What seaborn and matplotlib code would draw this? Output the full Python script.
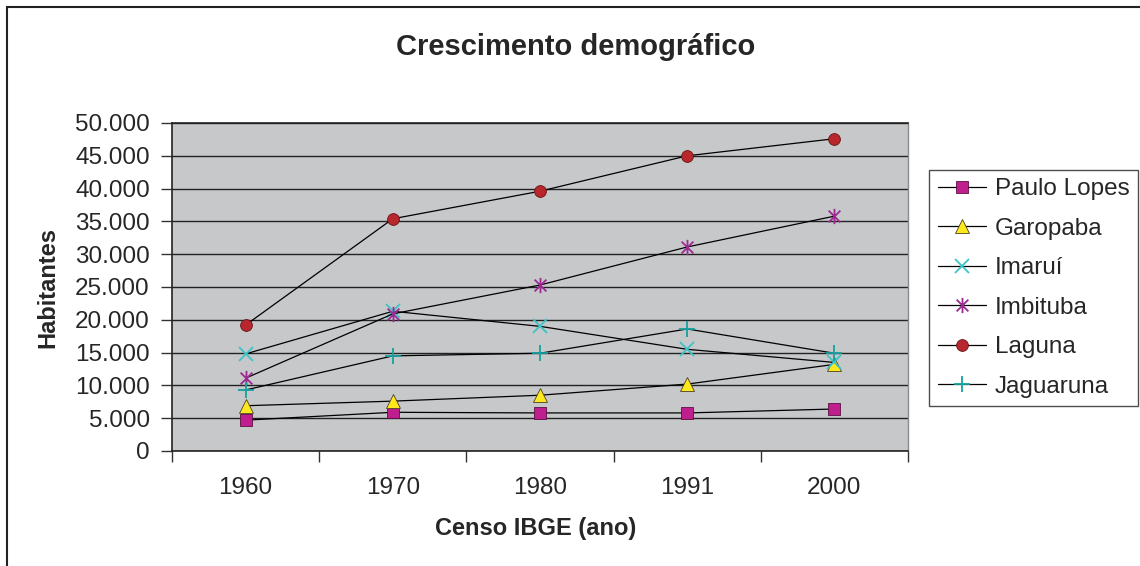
import numpy as np
import pandas as pd
import matplotlib
matplotlib.use("Agg")
import matplotlib.pyplot as plt
from matplotlib.patches import Rectangle
from matplotlib.path import Path
import seaborn as sns

# Data
anos = ["1960", "1970", "1980", "1991", "2000"]
paulo_lopes = [4700, 5900, 5800, 5800, 6400]
garopaba = [6900, 7600, 8500, 10200, 13200]
imarui = [14800, 21300, 19000, 15500, 13500]
imbituba = [11100, 20900, 25300, 31100, 35800]
laguna = [19200, 35400, 39600, 45000, 47600]
jaguaruna = [9300, 14500, 14900, 18600, 14900]

series = {
    "Paulo Lopes": paulo_lopes,
    "Garopaba": garopaba,
    "Imaruí": imarui,
    "Imbituba": imbituba,
    "Laguna": laguna,
    "Jaguaruna": jaguaruna,
}

# asterisk marker like Excel's "star" (x with a vertical bar)
star = Path([(-1, -1), (1, 1), (-1, 1), (1, -1), (0, -1.3), (0, 1.3)],
            [Path.MOVETO, Path.LINETO, Path.MOVETO, Path.LINETO, Path.MOVETO, Path.LINETO])

styles = {
    "Paulo Lopes": dict(marker="s", markersize=8, markerfacecolor="#BE1E8E", markeredgecolor="#5a1040", markeredgewidth=0.6),
    "Garopaba": dict(marker="^", markersize=10, markerfacecolor="#FFE81E", markeredgecolor="#4a4020", markeredgewidth=0.6),
    "Imaruí": dict(marker="x", markersize=10, markeredgecolor="#3CC4C8", markeredgewidth=1.3),
    "Imbituba": dict(marker=star, markersize=11, markeredgecolor="#9B2A92", markeredgewidth=1.3),
    "Laguna": dict(marker="o", markersize=8.5, markerfacecolor="#B8262E", markeredgecolor="#6a1418", markeredgewidth=0.6),
    "Jaguaruna": dict(marker="+", markersize=11, markeredgecolor="#16A0A0", markeredgewidth=1.3),
}

sns.set_style("white")
plt.rcParams["font.family"] = ["Liberation Sans", "DejaVu Sans"]

fig = plt.figure(figsize=(11.4, 5.66), dpi=100)
ax = fig.add_axes([0.1509, 0.2032, 0.6456, 0.5795])
ax.set_facecolor("#C7C8CA")

for name, vals in series.items():
    df = pd.DataFrame({"ano": anos, "hab": vals})
    sns.lineplot(data=df, x="ano", y="hab", ax=ax, color="black", linewidth=0.9,
                 label=name, sort=False, **styles[name])

ax.set_xlim(-0.5, 4.5)
ax.set_ylim(0, 50000)
yt = np.arange(0, 50001, 5000)
ax.set_yticks(yt)
ax.set_yticklabels([f"{v:,}".replace(",", ".") for v in yt], fontsize=17.5)
ax.yaxis.grid(True, color="#222222", linewidth=1.0)
ax.xaxis.grid(False)

# category boundaries as major ticks, labels centred on minor ticks
ax.set_xticks(np.arange(-0.5, 5, 1.0))
ax.set_xticklabels([])
ax.set_xticks(np.arange(0, 5), minor=True)
ax.set_xticklabels(anos, minor=True, fontsize=17.5)
ax.tick_params(axis="x", which="major", direction="out", length=8, width=1, color="#333333", bottom=True)
ax.tick_params(axis="x", which="minor", length=0, pad=19)
ax.tick_params(axis="y", direction="out", length=8, width=1, color="#333333", left=True, pad=8)

for side in ["left", "bottom", "top"]:
    ax.spines[side].set_color("#222222")
    ax.spines[side].set_linewidth(1.2)
ax.spines["right"].set_color("#8a8a8a")
ax.spines["right"].set_linewidth(1.0)

ax.set_xlabel("")
ax.set_ylabel("")
fig.text(0.0421, 0.4925, "Habitantes", rotation=90, fontsize=17, fontweight="bold",
         ha="center", va="center")
fig.text(0.4702, 0.0654, "Censo IBGE (ano)", fontsize=17, fontweight="bold",
         ha="center", va="center")
fig.text(0.5053, 0.9170, "Crescimento demográfico", fontsize=21, fontweight="bold",
         ha="center", va="center")

leg = ax.legend(loc="upper left", bbox_to_anchor=(0.815, 0.700), bbox_transform=fig.transFigure,
                fontsize=17.5, frameon=True, fancybox=False, edgecolor="#222222",
                handlelength=2.0, handletextpad=0.35, labelspacing=0.72, borderpad=0.35,
                borderaxespad=0)
leg.get_frame().set_linewidth(1.0)

fig.patches.append(Rectangle((0.0061, -0.2), 1.2, 0.9876 + 0.2, transform=fig.transFigure,
                             fill=False, edgecolor="#222222", linewidth=1.5))

fig.savefig("out.png", dpi=100)
